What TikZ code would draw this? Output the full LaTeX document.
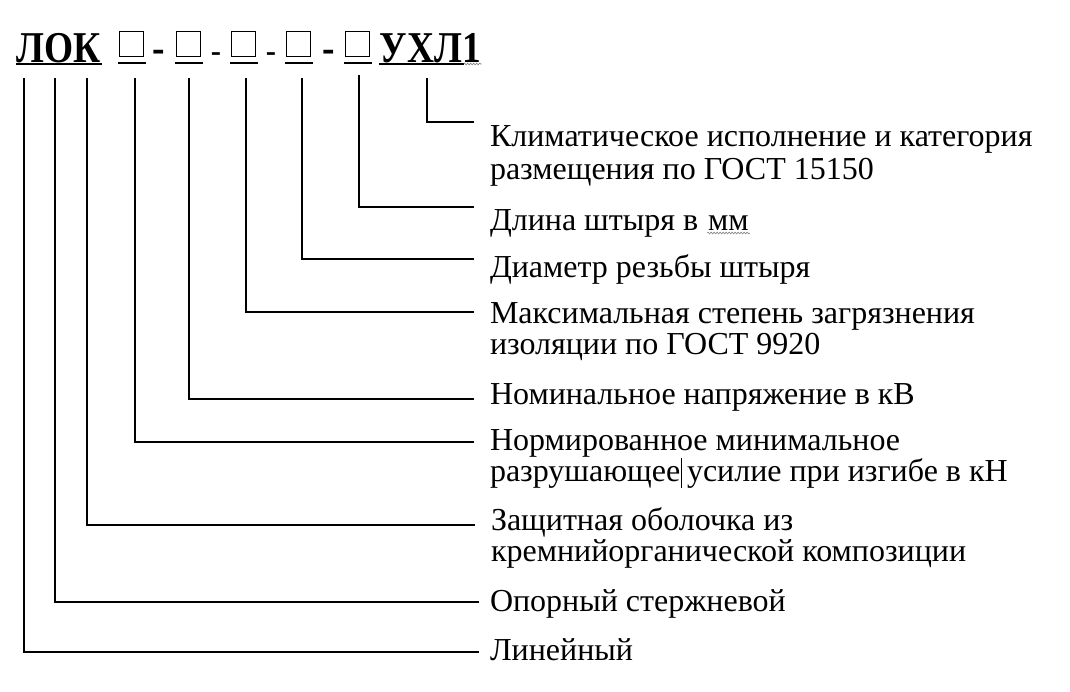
\documentclass[tikz,border=0pt]{standalone}
\usepackage{fontspec}
\setmainfont{Liberation Serif}
\usetikzlibrary{decorations.pathmorphing}
\begin{document}
\begin{tikzpicture}[x=1pt,y=-1pt,line width=2pt]
\tikzstyle{head}=[inner sep=0pt, anchor=base west, xscale=.85, transform shape, font=\fontsize{44}{44}\selectfont\bfseries]
\tikzstyle{slot}=[draw, line width=0.8pt, minimum width=24pt, minimum height=25pt, inner sep=0pt, anchor=south west]
\tikzstyle{expl}=[inner sep=0pt, anchor=base west, align=left, font=\fontsize{32}{31}\selectfont]
\tikzstyle{uline}=[line width=2.5pt]
\tikzstyle{squiggle}=[draw=gray, line width=0.6pt, decorate, decoration={snake, amplitude=0.9pt, segment length=3pt}]
\useasboundingbox (0,0) rectangle (1070,691);

% head line
\node[head] (lok) at (16,62) {ЛОК};
\node[slot] (s1) at (119,57) {};
\node[head] (d1) at (152,62) {-};
\node[slot] (s2) at (176,57) {};
\node[head, font=\fontsize{36}{36}\selectfont] (d2) at (210,62) {-};
\node[slot] (s3) at (231,57) {};
\node[head, font=\fontsize{36}{36}\selectfont] (d3) at (265,62) {-};
\node[slot] (s4) at (286,57) {};
\node[head] (d4) at (322,62) {-};
\node[slot] (s5) at (345,57) {};
\node[head] (uhl) at (379,62) {УХЛ1};

% underlines
\draw[uline] ([yshift=-2pt]lok.base west) -- ([yshift=-2pt]lok.base east);
\foreach \s in {s1,s2,s3,s4,s5}
  \draw[uline] ([xshift=-1pt,yshift=-6pt]\s.south west) -- ([xshift=2pt,yshift=-6pt]\s.south east);
\draw[uline] ([yshift=-2pt]uhl.base west) -- ([xshift=-18pt,yshift=-2pt]uhl.base east);
\draw[squiggle] ([xshift=-18pt,yshift=-2pt]uhl.base east) -- ([yshift=-2pt]uhl.base east);

% line ends
\coordinate (c1) at (474,122);
\coordinate (c2) at (474,207);
\coordinate (c3) at (474,259);
\coordinate (c4) at (474,312);
\coordinate (c5) at (474,399);
\coordinate (c6) at (474,442);
\coordinate (c7) at (475,525);
\coordinate (c8) at (479,602);
\coordinate (c9) at (479,652);

% explanations (multi-line nodes sit on their last baseline)
\node[expl, font=\fontsize{32}{33}\selectfont] (e1) at ([xshift=15pt,yshift=-57pt]c1)
  {Климатическое исполнение и категория\\размещения по ГОСТ 15150};
\node[expl] (e2) at ([xshift=15pt,yshift=-23pt]c2) {Длина штыря в};
\node[expl] (e2mm) at ([xshift=8pt]e2.base east) {мм};
\node[expl] (e3) at ([xshift=15pt,yshift=-18pt]c3) {Диаметр резьбы штыря};
\node[expl] (e4) at ([xshift=15pt,yshift=-42pt]c4)
  {Максимальная степень загрязнения\\изоляции по ГОСТ 9920};
\node[expl] (e5) at ([xshift=15pt,yshift=-5pt]c5) {Номинальное напряжение в кВ};
\node[expl] (e6) at ([xshift=15pt,yshift=-39pt]c6)
  {Нормированное минимальное\\разрушающее\kern1pt\rule[-7pt]{0.8pt}{30pt}\kern5pt усилие при изгибе в кН};
\node[expl] (e7) at ([xshift=15pt,yshift=-36pt]c7)
  {Защитная оболочка из\\кремнийорганической композиции};
\node[expl] (e8) at ([xshift=10pt,yshift=-9pt]c8) {Опорный стержневой};
\node[expl] (e9) at ([xshift=10pt,yshift=-8pt]c9) {Линейный};
\draw[squiggle] ([yshift=-3pt]e2mm.base west) -- ([yshift=-3pt]e2mm.base east);

% connectors
\draw ([xshift=48pt]uhl.base west) ++(0,16) |- (c1);
\draw ([xshift=2pt]s5.south) ++(0,18) |- (c2);
\draw ([xshift=4pt]s4.south) ++(0,21) |- (c3);
\draw ([xshift=3pt]s3.south) ++(0,21) |- (c4);
\draw ([xshift=1pt]s2.south) ++(0,21) |- (c5);
\draw ([xshift=4pt]s1.south) ++(0,21) |- (c6);
\draw ([xshift=71pt]lok.base west) ++(0,16) |- (c7);
\draw ([xshift=39pt]lok.base west) ++(0,16) |- (c8);
\draw ([xshift=8pt]lok.base west) ++(0,16) |- (c9);
\end{tikzpicture}
\end{document}
